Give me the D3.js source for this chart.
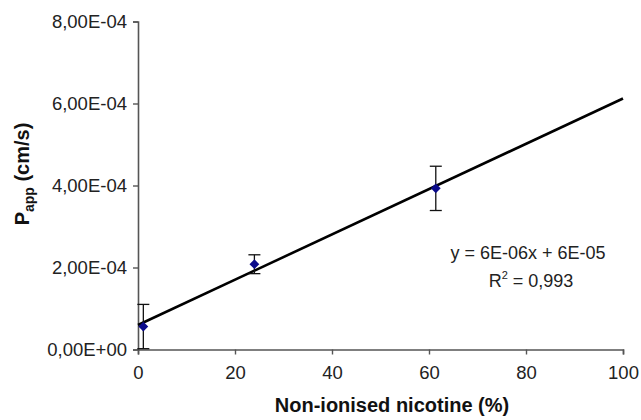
<!DOCTYPE html>
<html>
<head>
<meta charset="utf-8">
<script src="https://cdn.jsdelivr.net/npm/d3@7"></script>
<style>
  body { margin: 0; background: #fff; }
  svg { display: block; font-family: "Liberation Sans", Arial, sans-serif; }
</style>
</head>
<body>
<svg width="641" height="420"></svg>
<script>
// data
const nonIonised = [1.1, 24.0, 61.4];            // % non-ionised nicotine
const papp = [5.6e-5, 2.08e-4, 3.93e-4];          // cm/s
const pappErr = [5.4e-5, 2.3e-5, 5.4e-5];         // error bar half-length
const yTicks = [0, 2e-4, 4e-4, 6e-4, 8e-4];
const xTicks = [0, 20, 40, 60, 80, 100];
const eqLines = ['y = 6E-06x + 6E-05', 'R', ' = 0,993'];

const svg = d3.select('svg');

const x = d3.scaleLinear().domain([0, 100]).range([138, 623]);
const y = d3.scaleLinear().domain([0, 8e-4]).range([349.5, 21.5]);

// excel-ish number format: 6,00E-04
const fmt = v => {
  const [m, e] = v.toExponential(2).split('e');
  const sign = e[0] === '-' ? '-' : '+';
  const n = Math.abs(+e);
  return m.replace('.', ',') + 'E' + sign + (n < 10 ? '0' + n : n);
};

// axes
const gx = svg.append('g')
  .attr('transform', `translate(0,${y(0)})`)
  .call(d3.axisBottom(x).tickValues(xTicks).tickSize(5).tickPadding(11));
const gy = svg.append('g')
  .attr('transform', `translate(${x(0)},0)`)
  .call(d3.axisLeft(y).tickValues(yTicks).tickFormat(fmt).tickSize(5).tickPadding(6));

[gx, gy].forEach(g => {
  g.select('.domain').attr('stroke', '#555').attr('stroke-width', 1.6);
  g.selectAll('.tick line').attr('stroke', '#555').attr('stroke-width', 1.4);
  g.selectAll('.tick text')
    .attr('fill', '#222')
    .attr('font-size', 18.5)
    .attr('font-family', '"Liberation Sans", Arial, sans-serif');
});

// linear trend line (least squares)
const mx = d3.mean(nonIonised), my = d3.mean(papp);
const sxy = d3.sum(nonIonised, (v, i) => (v - mx) * (papp[i] - my));
const sxx = d3.sum(nonIonised, v => (v - mx) * (v - mx));
const slope = sxy / sxx;
const icpt = my - slope * mx;

svg.append('line')
  .attr('x1', x(0)).attr('y1', y(icpt))
  .attr('x2', x(100)).attr('y2', y(icpt + slope * 100))
  .attr('stroke', '#000')
  .attr('stroke-width', 2.6);

// error bars
const pts = nonIonised.map((v, i) => ({ x: v, y: papp[i], e: pappErr[i] }));
const eb = svg.append('g').selectAll('g').data(pts).enter().append('g')
  .attr('stroke', '#111').attr('stroke-width', 1.3);
eb.append('line')
  .attr('x1', d => x(d.x)).attr('x2', d => x(d.x))
  .attr('y1', d => y(d.y - d.e)).attr('y2', d => y(d.y + d.e));
eb.append('line')
  .attr('x1', d => x(d.x) - 6).attr('x2', d => x(d.x) + 6)
  .attr('y1', d => y(d.y + d.e)).attr('y2', d => y(d.y + d.e));
eb.append('line')
  .attr('x1', d => x(d.x) - 6).attr('x2', d => x(d.x) + 6)
  .attr('y1', d => y(d.y - d.e)).attr('y2', d => y(d.y - d.e));

// diamond markers
svg.append('g').selectAll('path').data(pts).enter().append('path')
  .attr('d', d3.symbol().type(d3.symbolSquare).size(48))
  .attr('transform', d => `translate(${x(d.x)},${y(d.y)}) rotate(45)`)
  .attr('fill', '#0a0a8a');

// equation
svg.append('text')
  .attr('x', 528).attr('y', 259)
  .attr('text-anchor', 'middle')
  .attr('font-size', 18).attr('fill', '#222')
  .text(eqLines[0]);
const r2 = svg.append('text')
  .attr('x', 531).attr('y', 287)
  .attr('text-anchor', 'middle')
  .attr('font-size', 18).attr('fill', '#222');
r2.append('tspan').text(eqLines[1]);
r2.append('tspan').attr('dy', -8).attr('font-size', 11).text('2');
r2.append('tspan').attr('dy', 8).text(eqLines[2]);

// axis titles
svg.append('text')
  .attr('x', 392).attr('y', 412)
  .attr('text-anchor', 'middle')
  .attr('font-size', 20).attr('font-weight', 'bold').attr('fill', '#111')
  .text('Non-ionised nicotine (%)');

const yt = svg.append('text')
  .attr('transform', 'translate(29,174) rotate(-90)')
  .attr('text-anchor', 'middle')
  .attr('font-size', 20).attr('font-weight', 'bold').attr('fill', '#111');
yt.append('tspan').text('P');
yt.append('tspan').attr('dy', 5).attr('font-size', 14).text('app');
yt.append('tspan').attr('dy', -5).text(' (cm/s)');
</script>
</body>
</html>
